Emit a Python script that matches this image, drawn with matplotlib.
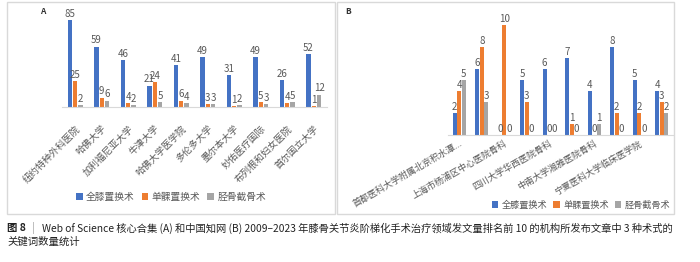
import matplotlib
matplotlib.use("Agg")
import matplotlib.pyplot as plt
from matplotlib.patches import Rectangle
import numpy as np

plt.rcParams['font.family'] = ['Noto Sans CJK SC', 'DejaVu Sans']

# Panel A: Web of Science
inst_a = ["纽约特种外科医院", "哈佛大学", "加利福尼亚大学", "牛津大学", "哈佛大学医学院",
          "多伦多大学", "墨尔本大学", "妙佑医疗国际", "布列根和妇女医院", "首尔国立大学"]
tka_a = [85, 59, 46, 21, 41, 49, 31, 49, 26, 52]
uka_a = [25, 9, 4, 24, 6, 3, 1, 5, 4, 1]
hto_a = [2, 6, 2, 5, 4, 3, 2, 3, 5, 12]

# Panel B: CNKI (only every other label is shown on the axis)
inst_b = ["首都医科大学附属北京积水潭...", "", "上海市杨浦区中心医院骨科", "", "四川大学华西医院骨科", "",
          "中南大学湘雅医院骨科", "", "宁夏医科大学临床医学院", ""]
tka_b = [2, 6, 0, 5, 6, 7, 4, 8, 5, 4]
uka_b = [4, 8, 10, 3, 0, 1, 0, 2, 2, 3]
hto_b = [5, 3, 0, 0, 0, 0, 1, 0, 0, 2]

series_names = ["全膝置换术", "单髁置换术", "胫骨截骨术"]
colors = ["#4472C4", "#ED7D31", "#A5A5A5"]

caption_1 = "Web of Science 核心合集 (A) 和中国知网 (B) 2009–2023 年膝骨关节炎阶梯化手术治疗领域发文量排名前 10 的机构所发布文章中 3 种术式的"
caption_2 = "关键词数量统计"

W, H = 700, 262
fig = plt.figure(figsize=(W / 100, H / 100), dpi=100)


def px_box(x0, y0, x1, y1):
    # pixel box (top-left origin) -> figure fraction [l, b, w, h]
    return [x0 / W, 1 - y1 / H, (x1 - x0) / W, (y1 - y0) / H]


# panel frames
for x0, x1 in [(7, 335), (337, 674)]:
    l, b, w, h = px_box(x0, 2, x1, 214)
    fig.patches.append(Rectangle((l, b), w, h, transform=fig.transFigure,
                                 fill=False, edgecolor="#D9D9D9", linewidth=1.0))


def draw_panel(ax, labels, vals, ymax, width, rot, label_fs, pad):
    x = np.arange(len(labels))
    offs = [-width, 0, width]
    for v, c, o, n in zip(vals, colors, offs, series_names):
        bars = ax.bar(x + o, v, width=width * 0.82, color=c, label=n)
        ax.bar_label(bars, padding=1, fontsize=7, color="#595959")
    ax.set_ylim(0, ymax)
    ax.set_xlim(-0.5, len(labels) - 0.5)
    ax.set_yticks([])
    ax.set_xticks(x)
    ax.set_xticklabels(labels, rotation=rot, ha="right", rotation_mode="anchor",
                       fontsize=label_fs, color="#595959")
    ax.tick_params(axis="x", length=0, pad=pad)
    for s in ["top", "right", "left"]:
        ax.spines[s].set_visible(False)
    ax.spines["bottom"].set_color("#D9D9D9")
    ax.patch.set_alpha(0)


leg_kw = dict(ncol=3, frameon=False, handlelength=0.7, handleheight=0.7,
              handletextpad=0.35, columnspacing=0.7, labelcolor="#595959")

ax_a = fig.add_axes(px_box(62, 10, 327, 107))
draw_panel(ax_a, inst_a, [tka_a, uka_a, hto_a], 95, 0.2, 45, 6.8, 12)
ax_a.legend(loc="center", bbox_to_anchor=(171 / W, 1 - 197 / H), bbox_transform=fig.transFigure,
            fontsize=7, **leg_kw)

ax_b = fig.add_axes(px_box(448, 15, 673, 135))
draw_panel(ax_b, inst_b, [tka_b, uka_b, hto_b], 10.9, 0.2, 30, 6.5, 3)
ax_b.legend(loc="center", bbox_to_anchor=(581 / W, 1 - 205 / H), bbox_transform=fig.transFigure,
            fontsize=6.6, **leg_kw)

fig.text(40 / W, 1 - 12 / H, "A", fontsize=6, fontweight="bold", color="#333333", va="center")
fig.text(345 / W, 1 - 12 / H, "B", fontsize=6, fontweight="bold", color="#333333", va="center")

fig.text(7 / W, 1 - 228 / H, "图 8", fontsize=7.5, fontweight="bold", color="#222222", va="center")
fig.text(32 / W, 1 - 228 / H, "|", fontsize=7.5, color="#999999", va="center")
fig.text(42 / W, 1 - 228 / H, caption_1, fontsize=7.4, color="#222222", va="center")
fig.text(7 / W, 1 - 242 / H, caption_2, fontsize=7.5, color="#222222", va="center")

fig.savefig("out.png", dpi=100)
